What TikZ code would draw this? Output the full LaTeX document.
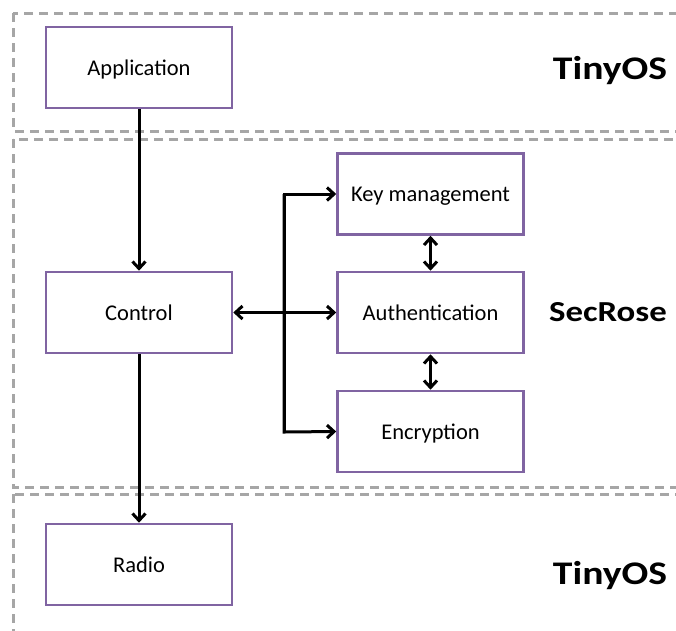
\documentclass[tikz,border=0pt]{standalone}
\usepackage{fontspec}
\setmainfont{Carlito}
\newfontfamily\lblfont[FakeStretch=1.2]{Carlito}
\usetikzlibrary{arrows.meta}
\definecolor{boxpurple}{HTML}{8064A2}
\definecolor{framegray}{HTML}{A6A6A6}
\tikzset{
  blk/.style={draw=boxpurple, line width=2.6pt, fill=white, minimum width=186pt, minimum height=81pt, inner sep=0pt, text height=15.6pt, text depth=0pt, font=\fontsize{22.5}{26}\selectfont},
  frame/.style={draw=framegray, line width=3pt, dash pattern=on 9pt off 6pt},
  conn/.style={line width=3pt, -{Straight Barb[length=7pt,width=13pt,line width=3pt]}},
  biconn/.style={line width=3pt, {Straight Barb[length=7pt,width=13pt,line width=3pt]}-{Straight Barb[length=7pt,width=13pt,line width=3pt]}},
  layer/.style={anchor=base, inner sep=0pt, font=\lblfont\fontsize{33}{38}\selectfont\bfseries}
}
\begin{document}
\begin{tikzpicture}[x=1pt,y=-1pt]
\useasboundingbox (0,0) rectangle (676,630);
\clip (0,0) rectangle (676,630);
\draw[frame] (13,13) rectangle (700,131);
\draw[frame] (13,139) rectangle (700,487);
\draw[frame] (13,494) rectangle (700,660);
\node[blk] (app) at (139,67.5) {Application};
\node[blk] (ctrl) at (139,312.5) {Control};
\node[blk] (radio) at (139,564.5) {Radio};
\node[blk] (key) at (430.5,194) {Key management};
\node[blk] (auth) at (430.5,312.5) {Authentication};
\node[blk] (enc) at (430.5,431.5) {Encryption};
\node[layer] (l1) at (610,79.3) {TinyOS};
\node[layer, font=\lblfont\fontsize{29}{34}\selectfont\bfseries] (l2) at (608,321.7) {SecRose};
\node[layer] (l3) at (610,584) {TinyOS};
\coordinate (vt) at (284,194);
\coordinate (vb) at (284,432);
\draw[conn] (app) -- (ctrl);
\draw[conn] (ctrl) -- (radio);
\draw[biconn] (ctrl) -- (auth);
\draw[conn] (vb) -- (vt) -- (key.west);
\draw[conn] (vt) -- (vb) -- (enc.west);
\draw[biconn] (key) -- (auth);
\draw[biconn] (auth) -- (enc);
\end{tikzpicture}
\end{document}
